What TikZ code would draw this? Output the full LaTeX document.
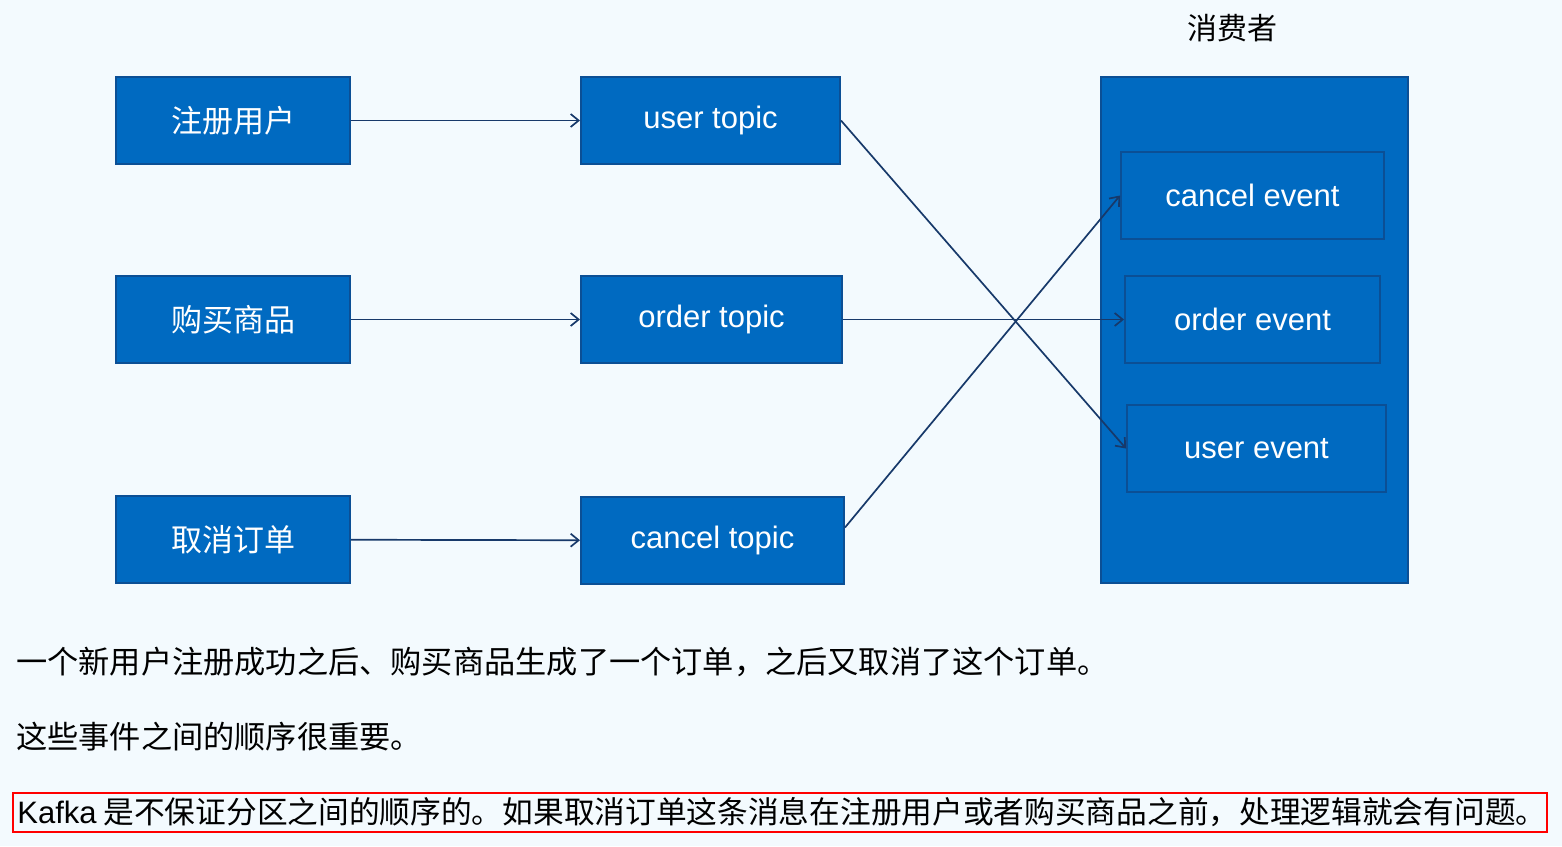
\documentclass[tikz,border=0pt]{standalone}
\usepackage{fontspec}
\setmainfont{Liberation Sans}
\newfontfamily\cjk{Noto Sans CJK SC}
\usetikzlibrary{arrows, arrows.meta, positioning}
\usepackage{color}
\definecolor{bgblue}{HTML}{F3FAFE}
\definecolor{boxblue}{HTML}{006AC1}
\definecolor{boxedge}{HTML}{0B4F95}
\definecolor{linkblue}{HTML}{17396A}

\begin{document}
\begin{tikzpicture}[x=0.5pt, y=-0.5pt,
		blk/.style={draw=boxedge, fill=boxblue, line width=1pt, text=white, inner sep=0pt,
			minimum height=43.5pt, font=\fontsize{15.5}{18}\selectfont},
		link/.style={draw=linkblue, line width=0.85pt, -{Straight Barb[length=4pt, width=6.5pt]}},
		note/.style={anchor=west, inner sep=0pt, font=\cjk\fontsize{15.6}{18}\selectfont}]
			\useasboundingbox (0,0) rectangle (1562,846);
			\fill[bgblue] (0,0) rectangle (1562,846);
			\node[blk, minimum width=117pt] (reg) at (233,120.5) {\cjk 注册用户};
			\node[blk, minimum width=117pt] (buy) at (233,319.5) {\cjk 购买商品};
			\node[blk, minimum width=117pt] (undo) at (233,539.5) {\cjk 取消订单};
			\node[blk, minimum width=129.5pt] (usertopic) at (710.5,120.5) {user topic};
			\node[blk, minimum width=130.5pt] (ordertopic) at (711.5,319.5) {order topic};
			\node[blk, minimum width=131.5pt] (canceltopic) at (712.5,540.5) {cancel topic};
			\node[blk, minimum width=153.5pt, minimum height=253pt] (consumer) at (1254.5,330) {};
			\node[font=\cjk\fontsize{15}{18}\selectfont] (consumerlbl) at (1232,28) {消费者};
			\node[blk, minimum width=131.5pt] (cancelevent) at (1252.5,195.5) {cancel event};
			\node[blk, minimum width=127.5pt] (orderevent) at (1252.5,319.5) {order event};
			\node[blk, minimum width=129.5pt] (userevent) at (1256.5,448.5) {user event};
			\foreach \a/\b in {reg/usertopic, buy/ordertopic, undo/canceltopic}{
				\draw[link] (\a) -- (\b);
			}
			\draw[link] (usertopic.east) -- (userevent.west);
			\draw[link] (ordertopic.east) -- (orderevent.west);
			\draw[link] ([yshift=6.5pt]canceltopic.east) -- (cancelevent.west);
			\node[note] (line1) at (16,662) {一个新用户注册成功之后、购买商品生成了一个订单，之后又取消了这个订单。};
			\node[note] (line2) at (16,737) {这些事件之间的顺序很重要。};
			\node[note, font=\cjk\fontsize{15.35}{18}\selectfont] (line3) at (17,812) {{\fontsize{15.5}{18}\selectfont\rmfamily Kafka} 是不保证分区之间的顺序的。如果取消订单这条消息在注册用户或者购买商品之前，处理逻辑就会有问题。};
			\draw[red, line width=1pt] (13,793) rectangle (1547,832);
		\end{tikzpicture}
\end{document}
